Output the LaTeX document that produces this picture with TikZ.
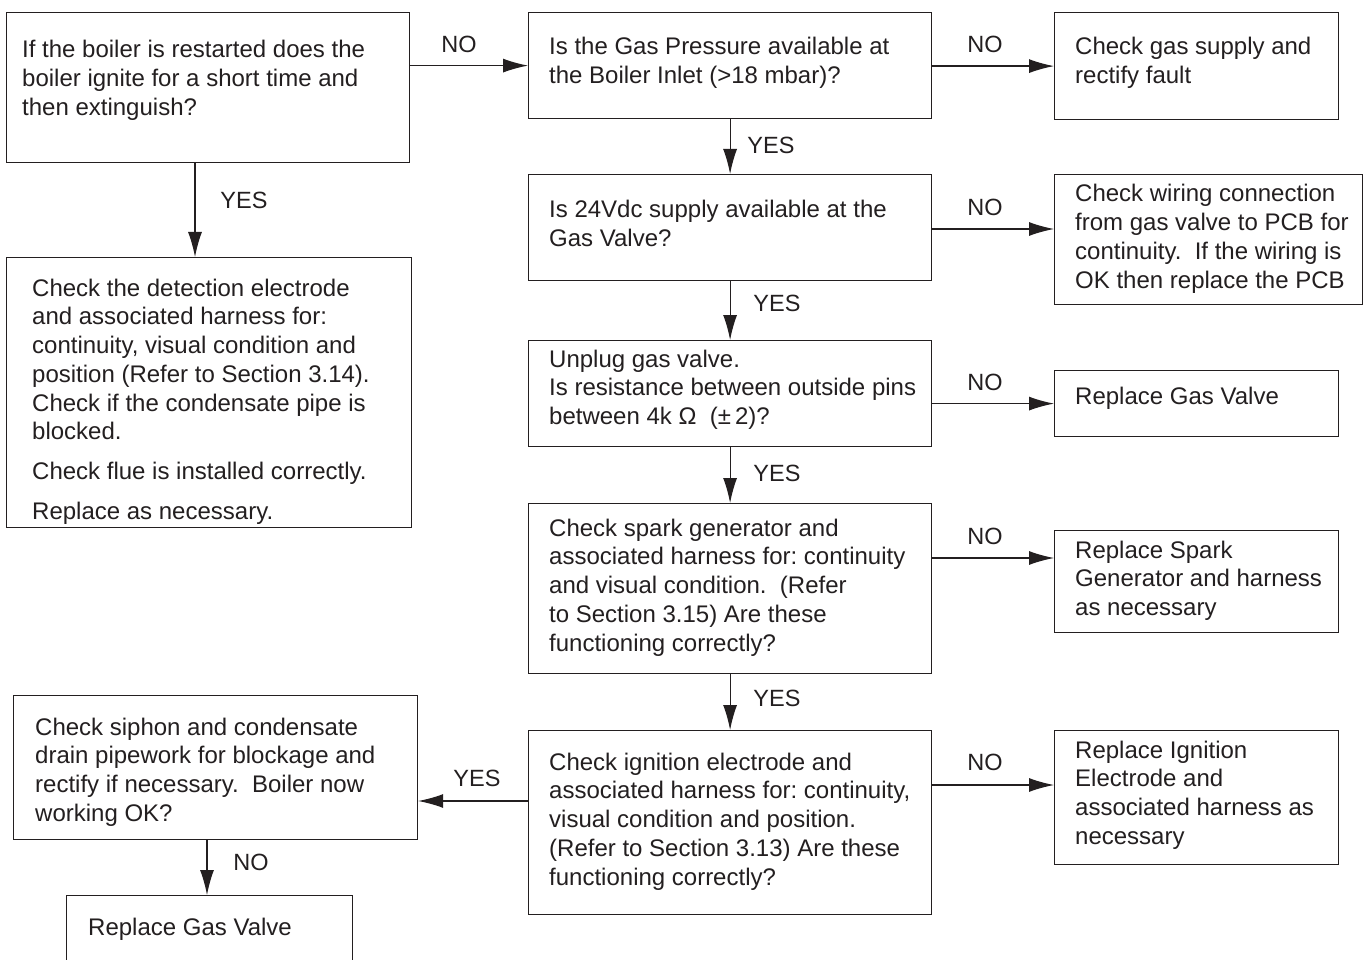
\documentclass[tikz,border=0pt]{standalone}
\usepackage{fontspec}
\setmainfont{Liberation Sans}
\usetikzlibrary{arrows.meta,calc}
\definecolor{ink}{HTML}{231F20}
\frenchspacing
\begin{document}
\begin{tikzpicture}[x=1pt,y=-1pt,
  box/.style={draw=ink,line width=1.2pt,rectangle,inner sep=0pt,anchor=north west},
  txt/.style={anchor=base west,inner sep=0pt,text=ink,font=\fontsize{24}{28.8}\selectfont},
  lbl/.style={anchor=base,inner sep=0pt,text=ink,font=\fontsize{23.5}{28.8}\selectfont},
  arr/.style={draw=ink,line width=1.2pt,-{Latex[length=25pt,width=14pt]}}]
\useasboundingbox (0,0) rectangle (1366,960);
\fill[white] (0,0) rectangle (1366,960);
\newcommand{\tb}[1]{\parbox[t]{520pt}{\raggedright #1}}
% boxes
\node[box,minimum width=403pt,minimum height=150pt] (A) at (6,12) {};
\node[box,minimum width=403pt,minimum height=106pt] (B) at (528,12) {};
\node[box,minimum width=284pt,minimum height=107pt] (C) at (1054,12) {};
\node[box,minimum width=403pt,minimum height=106pt] (D) at (528,174) {};
\node[box,minimum width=308pt,minimum height=130pt] (E) at (1054,174) {};
\node[box,minimum width=403pt,minimum height=106pt] (F) at (528,340) {};
\node[box,minimum width=284pt,minimum height=66pt] (G) at (1054,370) {};
\node[box,minimum width=403pt,minimum height=170pt] (H) at (528,503) {};
\node[box,minimum width=284pt,minimum height=102pt] (I) at (1054,530) {};
\node[box,minimum width=403pt,minimum height=184pt] (J) at (528,730) {};
\node[box,minimum width=284pt,minimum height=134pt] (K) at (1054,730) {};
\node[box,minimum width=405pt,minimum height=270pt] (L) at (6,257) {};
\node[box,minimum width=404pt,minimum height=144pt] (M) at (13,695) {};
\node[box,minimum width=286pt,minimum height=120pt] (N) at (66,895) {};
% texts
\node[txt] (At) at (22,58) {\tb{If the boiler is restarted does the\\boiler ignite for a short time and\\then extinguish?}};
\node[txt] (Bt) at (549,55) {\tb{Is the Gas Pressure available at\\the Boiler Inlet (>18 mbar)?}};
\node[txt] (Ct) at (1075,55) {\tb{Check gas supply and\\rectify fault}};
\node[txt] (Dt) at (549,218) {\tb{Is 24Vdc supply available at the\\Gas Valve?}};
\node[txt] (Et) at (1075,202) {\tb{Check wiring connection\\from gas valve to PCB for\\continuity.\ \ If the wiring is\\OK then replace the PCB}};
\node[txt] (Ft) at (549,367) {\tb{Unplug gas valve.\\Is resistance between outside pins\\between 4k Ω\ \ (±\,2)?}};
\node[txt] (Gt) at (1075,404) {\tb{Replace Gas Valve}};
\node[txt] (Ht) at (549,536) {\tb{Check spark generator and\\associated harness for: continuity\\and visual condition.\ \ (Refer\\to Section 3.15) Are these\\functioning correctly?}};
\node[txt] (It) at (1075,558) {\tb{Replace Spark\\Generator and harness\\as necessary}};
\node[txt] (Jt) at (549,770) {\tb{Check ignition electrode and\\associated harness for: continuity,\\visual condition and position.\\(Refer to Section 3.13) Are these\\functioning correctly?}};
\node[txt] (Kt) at (1075,758) {\tb{Replace Ignition\\Electrode and\\associated harness as\\necessary}};
\node[txt] (Lt) at (32,296) {\tb{Check the detection electrode\\and associated harness for:\\continuity, visual condition and\\position (Refer to Section 3.14).\\Check if the condensate pipe is\\blocked.\\[11pt]Check flue is installed correctly.\\[11pt]Replace as necessary.}};
\node[txt] (Mt) at (35,735) {\tb{Check siphon and condensate\\drain pipework for blockage and\\rectify if necessary.\ \ Boiler now\\working OK?}};
\node[txt] (Nt) at (88,935) {\tb{Replace Gas Valve}};
% connectors
\draw[arr] (A.east |- B.west) -- (B.west);
\draw[arr] (B.east |- C.west) -- (C.west);
\draw[arr] ($(D.north east)+(0,55)$) -- ($(E.north west)+(0,55)$);
\draw[arr] (F.east |- G.west) -- (G.west);
\draw[arr] ($(H.north east)+(0,55)$) -- ($(I.north west)+(0,28)$);
\draw[arr] ($(J.north east)+(0,55)$) -- ($(K.north west)+(0,55)$);
\draw[arr] ($(J.north west)+(0,71)$) -- ($(M.north east)+(0,106)$);
\draw[arr] (B.south) -- (D.north);
\draw[arr] (D.south) -- (F.north);
\draw[arr] (F.south) -- (H.north);
\draw[arr] (H.south) -- (J.north);
\draw[arr] ($(A.south west)+(189,0)$) -- ($(L.north west)+(189,0)$);
\draw[arr] ($(M.south west)+(194,0)$) -- ($(N.north west)+(141,0)$);
% labels
\node[lbl] (l1) at (459,53) {NO};
\node[lbl] (l2) at (985,53) {NO};
\node[lbl] (l3) at (244,209) {YES};
\node[lbl] (l4) at (771,154) {YES};
\node[lbl] (l5) at (985,216) {NO};
\node[lbl] (l6) at (777,312) {YES};
\node[lbl] (l7) at (985,390) {NO};
\node[lbl] (l8) at (777,481) {YES};
\node[lbl] (l9) at (985,544) {NO};
\node[lbl] (l10) at (777,706) {YES};
\node[lbl] (l11) at (985,770) {NO};
\node[lbl] (l12) at (477,786) {YES};
\node[lbl] (l13) at (251,870) {NO};
\end{tikzpicture}
\end{document}
